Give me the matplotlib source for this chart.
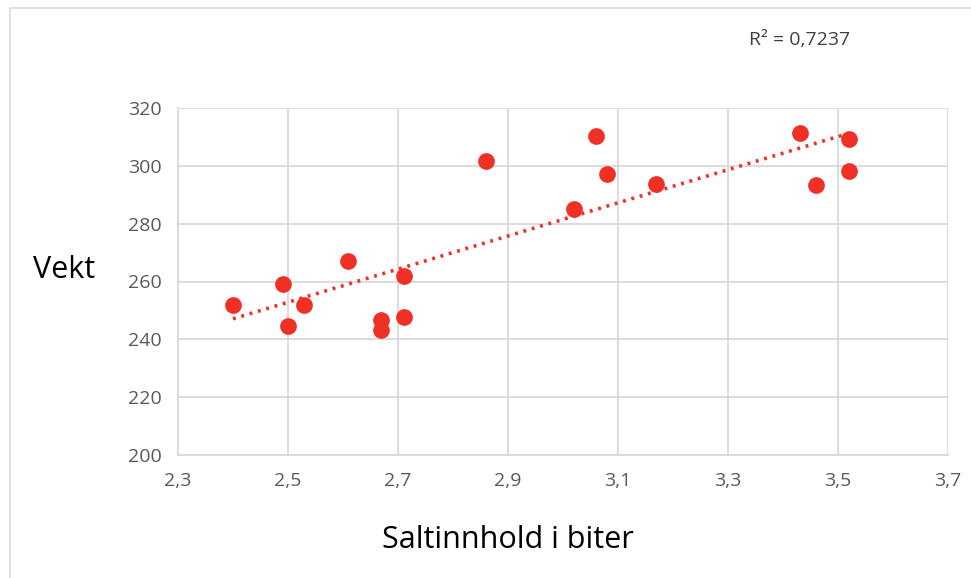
import numpy as np
import matplotlib
matplotlib.use("Agg")
import matplotlib.pyplot as plt
from matplotlib.patches import Rectangle

plt.rcParams['font.family'] = ['Liberation Sans Narrow', 'Open Sans', 'DejaVu Sans']

salt = [2.40, 2.49, 2.50, 2.53, 2.61, 2.67, 2.67, 2.71, 2.71, 2.86,
        3.02, 3.06, 3.08, 3.17, 3.43, 3.46, 3.52, 3.52]
vekt = [252.0, 259.2, 244.6, 252.0, 267.1, 246.7, 243.3, 261.9, 247.8, 301.8,
        285.1, 310.4, 297.2, 293.8, 311.4, 293.4, 309.4, 298.3]
x_ticks = [2.3, 2.5, 2.7, 2.9, 3.1, 3.3, 3.5, 3.7]
y_ticks = [200, 220, 240, 260, 280, 300, 320]
r2_label = "R² = 0,7237"

red = '#EE3124'
fig = plt.figure(figsize=(9.71, 5.78), dpi=100)
fig.patches.append(Rectangle((10/971, -0.1), 1.2, 1.1 - 8/578, transform=fig.transFigure,
                             fill=False, edgecolor='#d9d9d9', lw=1.2))
ax = fig.add_axes([178/971, 1 - 455/578, 770/971, 347/578])

ax.scatter(salt, vekt, s=145, color=red, zorder=3, linewidths=0)
x = np.array(salt); y = np.array(vekt)
m, b = np.polyfit(x, y, 1)
xs = np.array([x.min(), x.max()])
ax.plot(xs, m * xs + b, linestyle=(0, (0.8, 1.6)), color=red, lw=2.6, zorder=2)

ax.set_xlim(2.3, 3.7)
ax.set_ylim(200, 320)
ax.set_xticks(x_ticks)
ax.set_yticks(y_ticks)
ax.set_xticklabels([f"{t:.1f}".replace('.', ',') for t in x_ticks])
ax.set_yticklabels([str(t) for t in y_ticks])
ax.grid(True, color='#d9d9d9', lw=1.3)
ax.set_axisbelow(True)
for s in ['top', 'right']:
    ax.spines[s].set_visible(False)
for s in ['left', 'bottom']:
    ax.spines[s].set_color('#d9d9d9')
    ax.spines[s].set_linewidth(1.3)
ax.tick_params(length=0, labelsize=14, colors='#595959', pad=12)

fig.text(95/971, 1 - 270/578, "Vekt", fontsize=22, ha='right', va='center', color='black')
fig.text(508/971, 1 - 540/578, "Saltinnhold i biter", fontsize=22, ha='center', va='center', color='black')
fig.text(800/971, 1 - 40/578, r2_label, fontsize=14, ha='center', va='center', color='#404040')

fig.savefig("out.png", dpi=100)
